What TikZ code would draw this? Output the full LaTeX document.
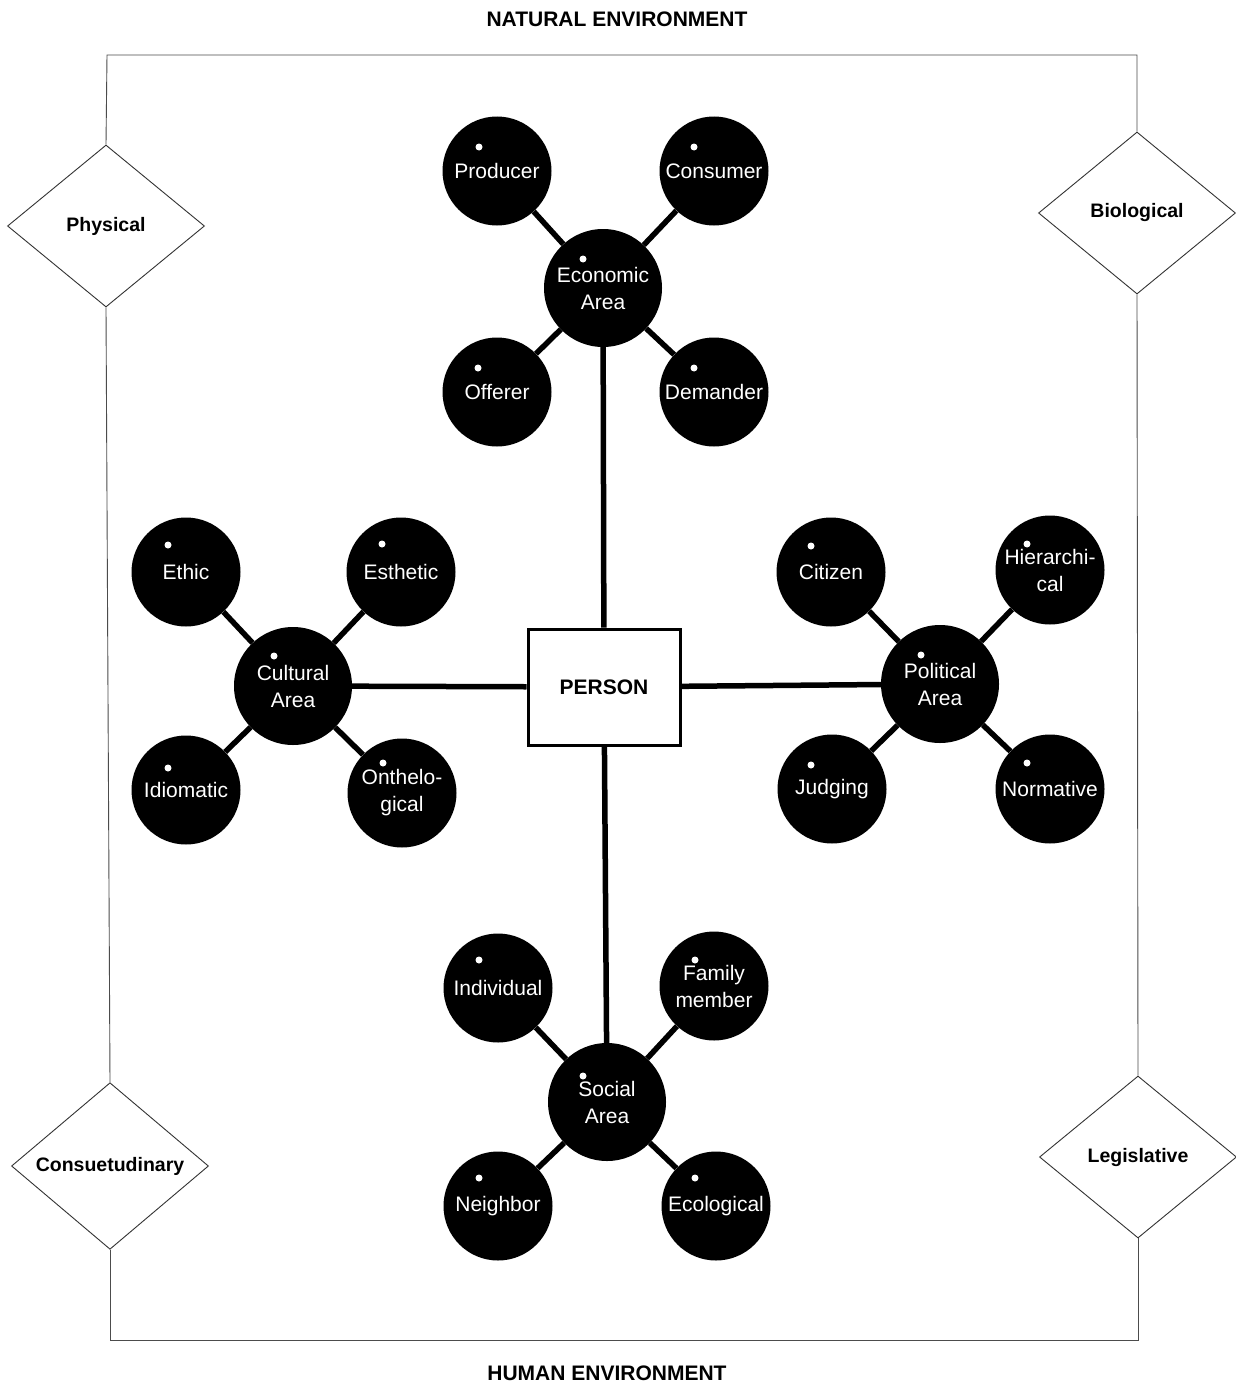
\documentclass[tikz,border=0pt]{standalone}
\usepackage{fontspec}
\setmainfont{Liberation Sans}
\usetikzlibrary{shapes.geometric}
\begin{document}
\begin{tikzpicture}[x=1pt,y=-1pt,
  frame/.style={draw=black!70, line width=0.9pt},
  zone/.style={diamond, draw=black!80, line width=0.9pt, minimum width=197pt, minimum height=162pt, inner sep=0pt, font=\fontsize{19.5}{21}\selectfont\bfseries},
  area/.style={circle, fill=black, minimum size=118pt, inner sep=0pt, text=white, align=center, font=\fontsize{21}{27}\selectfont},
  sat/.style={circle, fill=black, minimum size=109pt, inner sep=0pt, text=white, align=center, font=\fontsize{21}{27}\selectfont},
  link/.style={draw=black, line width=5.5pt},
  spot/.style={fill=white},
  title/.style={font=\fontsize{21}{23}\selectfont\bfseries}]
\useasboundingbox (0,0) rectangle (1236,1386);
\fill[white] (0,0) rectangle (1236,1386);

% titles
\node[title] (tnat) at (617,19) {NATURAL ENVIRONMENT};
\node[title] (thum) at (607,1373) {HUMAN ENVIRONMENT};

% diamonds
\node[zone] (phys) at (106,226) {Physical};
\node[zone] (cons) at (110,1166) {Consuetudinary};
\node[zone] (bio) at (1137,213) {Biological};
\node[zone] (leg) at (1138,1157) {Legislative};

% frame
\coordinate (tl) at (107,55);
\coordinate (tr) at (1137,55);
\coordinate (bl) at (110,1340);
\coordinate (br) at (1138,1340);
\draw[frame] (phys.north) -- (tl) -- (tr) -- (bio.north);
\draw[frame] (phys.south) -- (cons.north);
\draw[frame] (bio.south) -- (leg.north);
\draw[frame] (cons.south) -- (bl) -- (br) -- (leg.south);

% person
\node[draw=black, line width=3pt, minimum width=152pt, minimum height=116pt, font=\fontsize{21}{23}\selectfont\bfseries] (person) at (604,687) {PERSON};

% areas
\node[area] (econ) at (603,288) {Economic\\Area};
\node[area] (cult) at (293,686) {Cultural\\Area};
\node[area] (pol) at (940,684) {Political\\Area};
\node[area] (soc) at (607,1102) {Social\\Area};

% satellites
\node[sat] (prod) at (497,171) {Producer};
\node[sat] (consu) at (714,171) {Consumer};
\node[sat] (off) at (497,392) {Offerer};
\node[sat] (dem) at (714,392) {Demander};

\node[sat] (ethic) at (186,572) {Ethic};
\node[sat] (esth) at (401,572) {Esthetic};
\node[sat] (idio) at (186,790) {Idiomatic};
\node[sat] (onth) at (402,793) {Onthelo-\\gical};

\node[sat] (citi) at (831,572) {Citizen};
\node[sat] (hier) at (1050,570) {Hierarchi-\\cal};
\node[sat] (judg) at (832,789) {Judging};
\node[sat] (norm) at (1050,789) {Normative};

\node[sat] (indiv) at (498,988) {Individual};
\node[sat] (fam) at (714,986) {Family\\member};
\node[sat] (neigh) at (498,1206) {Neighbor};
\node[sat] (eco) at (716,1206) {Ecological};

% connectors
\draw[link] (person) -- (econ);
\draw[link] (person) -- (cult);
\draw[link] (person) -- (pol);
\draw[link] (person) -- (soc);
\foreach \a/\s in {econ/prod, econ/consu, econ/off, econ/dem,
                   cult/ethic, cult/esth, cult/idio, cult/onth,
                   pol/citi, pol/hier, pol/judg, pol/norm,
                   soc/indiv, soc/fam, soc/neigh, soc/eco}
  \draw[link] (\a) -- (\s);

% white highlight dots
\foreach \p in {(479,147),(694,147),(583,259),(478,368),(694,368),
                (168,545),(382,544),(274,656),(168,768),(383,763),
                (811,546),(1027,544),(921,655),(811,765),(1027,763),
                (479,960),(695,960),(583,1076),(479,1178),(695,1178)}
  \fill[spot] \p circle (3.5);
\end{tikzpicture}
\end{document}
